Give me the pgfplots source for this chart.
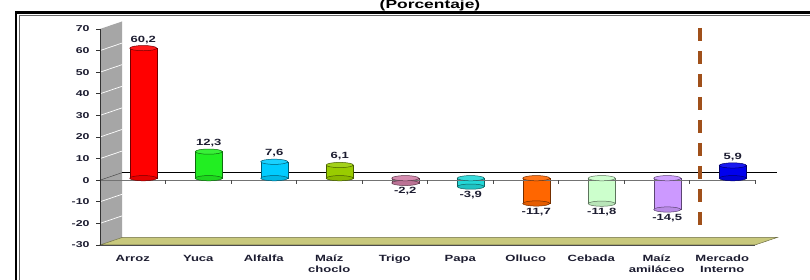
\documentclass[border=0pt]{standalone}
\usepackage{fontspec}
\setmainfont{Liberation Sans}[FakeStretch=1.45]
\usepackage{pgfplots}
\pgfplotsset{compat=1.18}
\usetikzlibrary{calc}

\definecolor{txt}{HTML}{1C1C30}
\definecolor{wallc}{HTML}{A6A6A6}
\definecolor{floorc}{HTML}{C8C87C}
\definecolor{dashc}{HTML}{A0501A}
\definecolor{cA}{HTML}{FF0000}
\definecolor{cB}{HTML}{22EE22}
\definecolor{cC}{HTML}{00CCFF}
\definecolor{cD}{HTML}{99CC00}
\definecolor{cE}{HTML}{D07FA6}
\definecolor{cF}{HTML}{22D8D8}
\definecolor{cG}{HTML}{FF6600}
\definecolor{cH}{HTML}{CCFFCC}
\definecolor{cI}{HTML}{CC99FF}
\definecolor{cJ}{HTML}{0000EE}

\pgfdeclareplotmark{cyltop}{%
  \pgfpathellipse{\pgfpointorigin}{\pgfqpoint{13.5pt}{0pt}}{\pgfqpoint{0pt}{2.6pt}}%
  \pgfusepathqfillstroke}

\pgfplotsset{
  cylsh/.style={xshift=10.5pt,yshift=2pt},
}
% #1 x, #2 value, #3 top, #4 bottom, #5 colour
\newcommand\cyl[5]{%
  \addplot[cylsh, only marks, mark=cyltop, mark options={fill=#5!90!black, draw=#5!45!black, line width=0.5pt}] coordinates {(#1,#4)};
  \addplot[cylsh, ybar, bar width=27pt, bar shift=0pt, fill=#5, draw=#5!45!black, line width=0.5pt,
    nodes near coords, nodes near coords style={font=\fontsize{9}{10}\selectfont\bfseries, text=txt, inner sep=4.5pt},
    /pgf/number format/.cd, fixed, fixed zerofill, precision=1, use comma, assume math mode=true] coordinates {(#1,#2)};
  \addplot[cylsh, only marks, mark=cyltop, mark options={fill=#5!90!white, draw=#5!45!black, line width=0.5pt}] coordinates {(#1,#3)};
}

\begin{document}
\begin{tikzpicture}[x=1pt,y=1pt]
\useasboundingbox (0,0) rectangle (810,280);
\clip (0,0) rectangle (810,280);
\fill[white] (0,0) rectangle (810,280);
% frame
\draw[black, line width=2.5pt] (16,267.5) rectangle (830,-20);
\draw[black!60, line width=0.8pt] (19.8,264.3) rectangle (826,-20);
% title
\node[font=\fontsize{12}{14}\selectfont\bfseries, anchor=base, text=black] at (430,271.5) {(Porcentaje)};

\begin{axis}[
  at={(100pt,35pt)}, anchor=south west,
  scale only axis, width=655pt, height=216pt,
  xmin=-0.5, xmax=9.5, ymin=-30, ymax=70,
  clip=false,
  axis line style={draw=none},
  tick style={draw=none},
  major tick length=0pt,
  xtick={0,...,9},
  xticklabels={Arroz, Yuca, Alfalfa, {Maíz\\choclo}, Trigo, Papa, Olluco, Cebada, {Maíz\\amiláceo}, {Mercado\\Interno}},
  xticklabel style={font=\fontsize{9}{10.5}\selectfont\bfseries, text=txt, align=center, anchor=north, yshift=-6.5pt},
  ytick={-30,-20,...,70},
  yticklabel style={font=\fontsize{8.5}{10}\selectfont\bfseries, text=txt, anchor=east, xshift=-7pt},
  /pgf/number format/assume math mode=true,
]
% wall
\fill[wallc] (axis cs:-0.5,-30) -- (axis cs:-0.5,70) -- ([shift={(22pt,7.5pt)}]axis cs:-0.5,70) -- ([shift={(22pt,7.5pt)}]axis cs:-0.5,-30) -- cycle;
\pgfplotsinvokeforeach{-20,-10,10,20,30,40,50,60}{
  \draw[white, line width=0.7pt] (axis cs:-0.5,#1) -- ([shift={(22pt,7.5pt)}]axis cs:-0.5,#1);
}
\draw[black!70, line width=0.5pt] (axis cs:-0.5,0) -- ([shift={(22pt,7.5pt)}]axis cs:-0.5,0);
% floor
\fill[floorc, draw=black!45!floorc, line width=0.5pt] (axis cs:-0.5,-30) -- (axis cs:9.5,-30) -- ([shift={(22pt,7.5pt)}]axis cs:9.5,-30) -- ([shift={(22pt,7.5pt)}]axis cs:-0.5,-30) -- cycle;
% back zero line
\draw[black, line width=0.6pt] ([shift={(22pt,7.5pt)}]axis cs:-0.5,0) -- ([shift={(22pt,7.5pt)}]axis cs:9.5,0);

% bars
\cyl{0}{60.2}{60.2}{0}{cA}
\cyl{1}{12.3}{12.3}{0}{cB}
\cyl{2}{7.6}{7.6}{0}{cC}
\cyl{3}{6.1}{6.1}{0}{cD}
\cyl{4}{-2.2}{0}{-2.2}{cE}
\cyl{5}{-3.9}{0}{-3.9}{cF}
\cyl{6}{-11.7}{0}{-11.7}{cG}
\cyl{7}{-11.8}{0}{-11.8}{cH}
\cyl{8}{-14.5}{0}{-14.5}{cI}
\cyl{9}{5.9}{5.9}{0}{cJ}

% front axes
\draw[black!55, line width=1pt] ([xshift=-4pt]axis cs:-0.5,0) -- (axis cs:9.5,0);
\pgfplotsinvokeforeach{0.5,1.5,2.5,3.5,4.5,5.5,6.5,7.5,8.5,9.5}{
  \draw[black!70, line width=0.6pt] (axis cs:#1,0) -- ([yshift=-4pt]axis cs:#1,0);
}
\draw[black!80, line width=0.8pt] (axis cs:-0.5,-30) -- (axis cs:-0.5,70);
\pgfplotsinvokeforeach{-30,-20,-10,0,10,20,30,40,50,60,70}{
  \draw[black!80, line width=0.6pt] (axis cs:-0.5,#1) -- ([xshift=-4pt]axis cs:-0.5,#1);
}
\draw[black!70, line width=0.6pt] (axis cs:-0.5,-30) -- (axis cs:9.5,-30);
% dashed separator
\draw[dashc, line width=3.2pt, dash pattern=on 13pt off 10pt] ([xshift=10.5pt]axis cs:8.5,70.5) -- ([xshift=10.5pt]axis cs:8.5,-22.5);
\end{axis}
\end{tikzpicture}
\end{document}
